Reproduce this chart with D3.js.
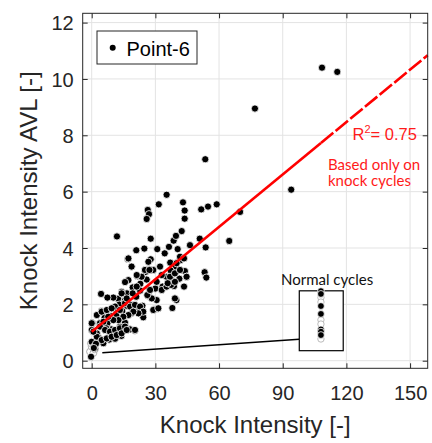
<!DOCTYPE html>
<html><head><meta charset="utf-8">
<script src="https://cdn.jsdelivr.net/npm/d3@7"></script>
<style>body{margin:0;background:#fff}svg{display:block}</style>
</head><body>
<svg id="c" width="432" height="443"></svg>
<script>
const xTicks = [0, 30, 60, 90, 120, 150];
const yTicks = [0, 2, 4, 6, 8, 10, 12];
// knock cycles [Knock Intensity, Knock Intensity AVL]
const knockX = [108.5,115.7,76.9,53.5,94,69.9,64.8,58.9,54.8,51.6,50.9,53.7,53.2,54,46.3,43,43.8,43.8,42.4,35.3,31.6,26.4,27,25.9,27.8,11.9,24.8,21,17,18.8,27.8,30.9,34.4,36.4,38.6,39.7,40.5,37,39.6,41.6,43.9,44.7,41.3,37.4,38.8,39.9,38,31.2,29.2,33.4,30,26.8,27.2,25.3,21.5,22.9,19.3,17.3,15.7,21,23.9,24.3,22.4,18.8,16.6,15.7,12.4,10.2,7.4,4.4,4.6,6.1,7.4,9.3,8.2,5.5,3.3,0,0.3,0,-0.3,2.4,11,14,18,20.3,15.7,13.3,11.6,10.7,13,14.4,16.6,14.1,18.4,22.8,25.9,29,32.2,35.3,37.2,8.6,6.8,3.9,1.6,
11.0,13.3,15.7,18.1,20.4,22.8,24.3,22.0,19.6,17.3,14.9,12.6,10.2,7.8,5.5,3.9,6.3,8.6,11.0,13.3,15.7,18.1,20.4,2.4,4.7,7.1,9.4,11.8,14.1,16.5,0.8,0,2.4,4.7,7.1,9.4,
29.0,31.4,30.6,28.3,26.2,27.5,33.0,35.3,37.4,39.2,36.9,39.2,41.6,40.0,41.6,43.5,44.7,43.5,39.2,35.8,33.0,30.6,14.1,16.5,19.3,21.2,23.5,25.1,27.2,26.7,21.2,18.8,17.3,
1.2,2.0,1.0];
const knockY = [10.4,10.25,8.95,7.15,6.07,5.28,4.25,5.55,5.47,5.37,4.33,4.02,3.14,2.95,4.1,5.62,5.33,5.04,4.6,5.89,5.55,5.35,5.2,5.03,4.33,4.41,3.98,3.92,3.61,3.34,3.6,3.96,3.81,4.04,4.26,4.43,3.96,3.48,3.34,3.56,3.18,2.98,2.91,2.98,2.65,2.15,1.87,1.85,1.82,2.63,2.56,2.3,2.53,3.15,3,2.73,2.6,2.86,2.79,2.27,1.95,1.54,1.8,1.68,1.94,2.15,2.2,2.24,2.24,2.37,1.76,1.53,1.33,1.11,0.75,0.62,0.82,0.67,1.33,1.09,0.14,0.97,0.78,0.88,1.11,1.07,1.35,1.21,1.61,1.86,1.99,1.76,2.39,2.44,1.98,2.49,2.88,3.22,3.34,2.98,3.2,1.59,1.15,1.33,0.44,
1.92,1.80,2.04,1.92,1.98,1.92,1.74,1.68,1.74,1.62,1.56,1.44,1.44,1.56,1.38,1.21,1.09,1.03,1.09,1.15,1.21,1.11,1.09,0.85,0.73,0.79,0.85,0.91,0.97,1.09,1.03,1.33,1.62,1.74,1.80,1.86,
1.80,1.86,2.15,2.21,2.33,2.51,2.51,2.63,2.69,2.80,2.98,3.10,3.22,3.46,3.69,3.63,2.98,2.63,2.21,2.75,3.04,2.80,2.39,2.21,2.39,2.63,2.98,3.22,3.22,3.51,3.04,3.34,3.63,
0.5,0.6,0.45];
// hidden (faint) normal cycles near the origin
const faintX = [-0.8, 0.8, 0, 1.5, -0.4];
const faintY = [0.32, 0.27, 0.5, 0.4, 0.62];
// normal cycles shown in the inset column
const normalX = 108;
const normalY = [2.47, 2.37, 1.94, 1.66, 1.11, 1.03, 0.91];
const normalFaintY = [2.24, 2.08, 1.45, 1.3, 0.77];
// regression fit
const fitIntercept = 1.03, fitSlope = 0.062, fitSolidEnd = 108;

const svg = d3.select('#c');
const L = 82.7, R = 427.7, T = 13.3, B = 368.3;
const x = d3.scaleLinear().domain([-4.24, 158.3]).range([L, R]);
const y = d3.scaleLinear().domain([-0.27, 12.33]).range([B, T]);
const frame = '#262626', gridC = '#e3e3e3';

// grid
svg.append('g').selectAll('line').data(xTicks).join('line')
  .attr('x1', d => x(d)).attr('x2', d => x(d)).attr('y1', T).attr('y2', B)
  .attr('stroke', gridC).attr('stroke-width', 1);
svg.append('g').selectAll('line').data(yTicks).join('line')
  .attr('y1', d => y(d)).attr('y2', d => y(d)).attr('x1', L).attr('x2', R)
  .attr('stroke', gridC).attr('stroke-width', 1);

// axes with inner ticks
const fontT = 'Liberation Sans, Arial, sans-serif';
const fontA = 'Lato, Open Sans, sans-serif';
const ax = svg.append('g').attr('transform', `translate(0,${B})`)
  .call(d3.axisBottom(x).tickValues(xTicks).tickSize(-5).tickPadding(0).tickFormat(d3.format('d')));
ax.select('.domain').remove();
ax.selectAll('line').attr('stroke', frame);
ax.selectAll('text').attr('y', 32).attr('dy', 0).attr('font-size', 20).attr('font-family', fontT).attr('fill', frame);
const axT = svg.append('g').attr('transform', `translate(0,${T})`)
  .call(d3.axisTop(x).tickValues(xTicks).tickSize(-5).tickFormat(''));
axT.select('.domain').remove(); axT.selectAll('line').attr('stroke', frame);
const ay = svg.append('g').attr('transform', `translate(${L},0)`)
  .call(d3.axisLeft(y).tickValues(yTicks).tickSize(-5).tickPadding(0).tickFormat(d3.format('d')));
ay.select('.domain').remove();
ay.selectAll('line').attr('stroke', frame);
ay.selectAll('text').attr('x', -9).attr('dy', '0.36em').attr('font-size', 20).attr('font-family', fontT).attr('fill', frame);
const ayR = svg.append('g').attr('transform', `translate(${R},0)`)
  .call(d3.axisRight(y).tickValues(yTicks).tickSize(-5).tickFormat(''));
ayR.select('.domain').remove(); ayR.selectAll('line').attr('stroke', frame);

// faint points near origin
svg.append('g').selectAll('circle').data(faintX.map((v, i) => [v, faintY[i]])).join('circle')
  .attr('cx', d => x(d[0])).attr('cy', d => y(d[1])).attr('r', 3.4)
  .attr('fill', '#fff').attr('stroke', '#999').attr('stroke-width', 0.8);

// points
const pts = knockX.map((v, i) => [v, knockY[i]]);
svg.append('g').selectAll('circle').data(pts).join('circle')
  .attr('cx', d => x(d[0])).attr('cy', d => y(d[1])).attr('r', 3.6)
  .attr('fill', '#000').attr('stroke', '#fff').attr('stroke-width', 0.8);

// inset box and connector
svg.append('line').attr('x1', x(5)).attr('y1', y(0.28)).attr('x2', x(97.8)).attr('y2', y(0.76))
  .attr('stroke', '#000').attr('stroke-width', 1.5);
svg.append('rect').attr('x', x(97.8)).attr('y', y(2.48)).attr('width', x(118.5) - x(97.8)).attr('height', y(0.355) - y(2.48))
  .attr('fill', '#fff').attr('stroke', '#000').attr('stroke-width', 1.2);
svg.append('g').selectAll('circle').data(normalFaintY).join('circle')
  .attr('cx', x(normalX)).attr('cy', d => y(d)).attr('r', 3.2)
  .attr('fill', '#fff').attr('stroke', '#aaa').attr('stroke-width', 0.8);
svg.append('g').selectAll('circle').data(normalY).join('circle')
  .attr('cx', x(normalX)).attr('cy', d => y(d)).attr('r', 3.4)
  .attr('fill', '#000').attr('stroke', '#fff').attr('stroke-width', 0.8);
svg.append('text').attr('x', 281).attr('y', 285).text('Normal cycles')
  .attr('font-family', fontA).attr('font-size', 15).attr('fill', '#111');

// regression line
const fit = v => fitIntercept + fitSlope * v;
svg.append('line').attr('x1', x(0)).attr('y1', y(fit(0))).attr('x2', x(fitSolidEnd)).attr('y2', y(fit(fitSolidEnd)))
  .attr('stroke', '#ff0000').attr('stroke-width', 2.6);
svg.append('line').attr('x1', x(fitSolidEnd)).attr('y1', y(fit(fitSolidEnd))).attr('x2', x(158.3)).attr('y2', y(fit(158.3)))
  .attr('stroke', '#ff0000').attr('stroke-width', 2.6).attr('stroke-dasharray', '16,3');

// red annotations
const rt = svg.append('text').attr('x', 352.5).attr('y', 140).attr('font-family', fontT).attr('font-size', 16.5).attr('fill', '#ff1a1a');
rt.append('tspan').text('R');
rt.append('tspan').text('2').attr('font-size', 11).attr('dy', -7);
rt.append('tspan').text('= 0.75').attr('dy', 7);
svg.append('text').attr('x', 328).attr('y', 169.5).text('Based only on')
  .attr('font-family', fontA).attr('font-size', 15).attr('fill', '#ff1a1a');
svg.append('text').attr('x', 328).attr('y', 186).text('knock cycles')
  .attr('font-family', fontA).attr('font-size', 15).attr('fill', '#ff1a1a');

// legend
svg.append('rect').attr('x', 97).attr('y', 31).attr('width', 100).attr('height', 33)
  .attr('fill', '#fff').attr('stroke', frame).attr('stroke-width', 1);
svg.append('circle').attr('cx', 112.7).attr('cy', 47.7).attr('r', 3).attr('fill', '#000');
svg.append('text').attr('x', 126.5).attr('y', 55.5).text('Point-6')
  .attr('font-family', fontT).attr('font-size', 20).attr('fill', '#000');

// frame
svg.append('rect').attr('x', L).attr('y', T).attr('width', R - L).attr('height', B - T)
  .attr('fill', 'none').attr('stroke', frame).attr('stroke-width', 1);

// axis titles
svg.append('text').attr('x', (L + R) / 2).attr('y', 433).attr('text-anchor', 'middle')
  .text('Knock Intensity [-]').attr('font-family', fontT).attr('font-size', 24).attr('fill', frame);
svg.append('text').attr('transform', `translate(37,${(T + B) / 2}) rotate(-90)`).attr('text-anchor', 'middle')
  .text('Knock Intensity AVL [-]').attr('font-family', fontT).attr('font-size', 24).attr('fill', frame);
</script>
</body></html>
